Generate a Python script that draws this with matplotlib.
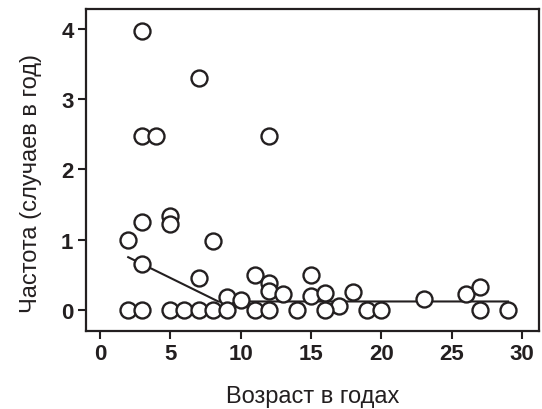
import numpy as np
import matplotlib
matplotlib.use("Agg")
import matplotlib.pyplot as plt

plt.rcParams['font.family'] = ['Liberation Sans', 'DejaVu Sans']

# age (years) and frequency (cases per year)
age = [3, 7, 3, 4, 12,
       5, 5, 3, 2, 8, 3, 7,
       11, 12, 12, 13, 9, 10,
       15, 15, 16, 17, 18, 23, 26, 27,
       2, 3, 5, 6, 7, 8, 9, 11, 12, 14, 16, 19, 20, 27, 29]
freq = [3.96, 3.30, 2.48, 2.48, 2.48,
        1.34, 1.22, 1.25, 1.00, 0.98, 0.65, 0.45,
        0.50, 0.38, 0.27, 0.23, 0.19, 0.14,
        0.49, 0.20, 0.24, 0.06, 0.26, 0.16, 0.23, 0.32,
        0, 0, 0, 0, 0, 0, 0, 0, 0, 0, 0, 0, 0, 0, 0]

# smoothed trend
fit_x = [2, 8.4, 29]
fit_y = [0.75, 0.12, 0.12]

ink = '#231f20'

fig = plt.figure(figsize=(5.42, 4.10), dpi=100)
ax = fig.add_axes([86 / 542, 1 - 332 / 410, 453 / 542, 322 / 410])

ax.plot(fit_x, fit_y, color=ink, lw=1.5, zorder=2)
ax.plot(age, freq, 'o', ms=11.5, mfc='white', mec=ink, mew=1.7, zorder=3)

ax.set_xlim(-1.0, 31.2)
ax.set_ylim(-0.3, 4.28)
ax.set_xticks([0, 5, 10, 15, 20, 25, 30])
ax.set_yticks([0, 1, 2, 3, 4])

for s in ax.spines.values():
    s.set_linewidth(1.6)
    s.set_color(ink)
ax.tick_params(direction='out', length=6, width=1.5, color=ink,
               labelsize=16, pad=3)
for lab in ax.get_xticklabels() + ax.get_yticklabels():
    lab.set_fontweight('bold')
    lab.set_color(ink)

ax.set_xlabel('Возраст в годах', fontsize=17, color=ink, labelpad=15)
ax.set_ylabel('Частота (случаев в год)', fontsize=17, color=ink, labelpad=14)
ax.yaxis.label.set_y(0.46)

fig.savefig('out.png', dpi=100)
